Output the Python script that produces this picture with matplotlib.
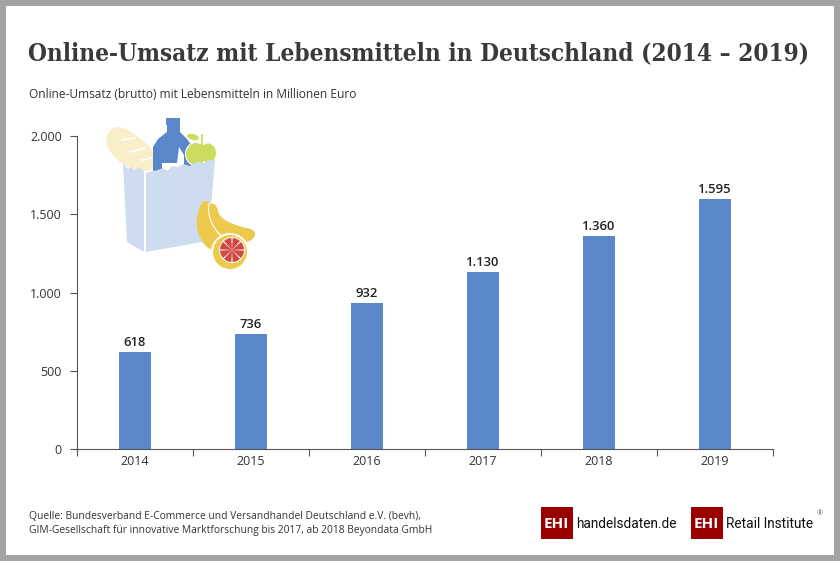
import matplotlib
matplotlib.use('Agg')
import matplotlib.pyplot as plt
from matplotlib.patches import Polygon, Rectangle, Ellipse, Circle, Wedge
from matplotlib.ticker import FuncFormatter

years = ['2014', '2015', '2016', '2017', '2018', '2019']
sales = [618, 736, 932, 1130, 1360, 1595]
yticks = [0, 500, 1000, 1500, 2000]
title = 'Online-Umsatz mit Lebensmitteln in Deutschland (2014 – 2019)'
subtitle = 'Online-Umsatz (brutto) mit Lebensmitteln in Millionen Euro'
source = ('Quelle: Bundesverband E-Commerce und Versandhandel Deutschland e.V. (bevh),\n'
          'GIM-Gesellschaft für innovative Marktforschung bis 2017, ab 2018 Beyondata GmbH')

def de(v):
    return f'{v:,.0f}'.replace(',', '.')

def smooth(pts, n=3):
    for _ in range(n):
        out = []
        for i in range(len(pts)):
            a, b = pts[i], pts[(i+1) % len(pts)]
            out.append((0.75*a[0]+0.25*b[0], 0.75*a[1]+0.25*b[1]))
            out.append((0.25*a[0]+0.75*b[0], 0.25*a[1]+0.75*b[1]))
        pts = out
    return pts

W, H = 840, 561
plt.rcParams['font.family'] = ['Open Sans', 'DejaVu Sans']
fig = plt.figure(figsize=(W/100, H/100), dpi=100, facecolor='white')

ov = fig.add_axes([0, 0, 1, 1], zorder=3)
ov.set_xlim(0, W); ov.set_ylim(H, 0); ov.axis('off'); ov.patch.set_alpha(0)

GR = '#a3a3a3'
for r in [(0, 0, W, 6), (0, 555, W, 6), (0, 0, 6, H), (834, 0, 6, H)]:
    ov.add_patch(Rectangle((r[0], r[1]), r[2], r[3], fc=GR, ec='none'))

ax = fig.add_axes([77/W, 1-449/H, 696/W, 313/H], zorder=2)
ax.patch.set_alpha(0)
xs = range(len(years))
ax.bar(xs, sales, width=32.5/116, color='#5a87c9')
for x, v in zip(xs, sales):
    ax.text(x, v+20, de(v), ha='center', va='bottom', fontsize=9.4, color='#222222', fontweight='semibold')
ax.set_xlim(-0.5, 5.5); ax.set_ylim(0, 2000)
ax.set_xticks([i+0.5 for i in range(-1, 6)], minor=False)
ax.set_xticklabels([])
ax.set_xticks(list(xs), minor=True)
ax.set_xticklabels(years, minor=True)
ax.tick_params(axis='x', which='major', length=5, width=0.8, color='#555555')
ax.tick_params(axis='x', which='minor', length=0, pad=4.5, labelsize=9, labelcolor='#333333')
ax.set_yticks(yticks)
ax.yaxis.set_major_formatter(FuncFormatter(lambda v, p: de(v)))
ax.tick_params(axis='y', length=5, width=0.8, color='#555555', labelsize=9, labelcolor='#333333', pad=6)
for s in ['top', 'right']:
    ax.spines[s].set_visible(False)
for s in ['left', 'bottom']:
    ax.spines[s].set_color('#555555'); ax.spines[s].set_linewidth(0.8)

ov.text(28, 53, title, fontsize=17.5, family='DejaVu Serif', stretch='condensed', fontweight='bold', color='#3a3a3a', va='center', ha='left')
ov.text(29, 94, subtitle, fontsize=8.6, color='#333333', va='center')
ov.text(29, 523.5, source, fontsize=7.35, color='#333333', va='center', linespacing=1.4)

# illustration
BR = '#f8efc9'; BL = '#5a87c9'; GN = '#cbdc5e'; BG = '#cedcf0'; YE = '#edc94c'
ov.add_patch(Polygon(smooth([(106,134),(117,125),(134,133),(155,151),(155,173),(124,167),(107,149)],2), fc=BR, ec='none'))
for p in [(122,140,135,138),(130,152,145,148),(142,160,152,158)]:
    ov.plot([p[0],p[2]],[p[1],p[3]],color='white',lw=1.3)
ov.add_patch(Rectangle((166,118),14,7,fc=BL,ec='none'))
ov.add_patch(Polygon([(167,125),(180,125),(180,132),(187,139),(192,146),(192,172),(153,172),(153,147),(158,139),(167,132)], fc=BL, ec='none'))
ov.add_patch(Polygon([(162,172),(162,163),(177,163),(179,147),(184,155),(184,172)], fc='white', ec='none'))
ov.add_patch(Ellipse((196,154),21,23,fc=GN,ec='white',lw=0.8))
ov.add_patch(Ellipse((208,153),16,19,fc=GN,ec='none'))
ov.add_patch(Ellipse((193,137),12,6,angle=15,fc=GN,ec='none'))
ov.plot([202,202],[135,146],color=GN,lw=1.3)
ov.add_patch(Polygon([(123,163),(128,169),(131,167),(134,170),(139,168),(144,171),(144,252),(127,242)], fc=BG, ec='none'))
ov.add_patch(Polygon([(146,173),(153,171),(158,170),(163,168),(167,171),(172,166),(178,167),(183,164),(190,166),(197,162),(204,163),(209,160),(215,160),(208,241),(146,252)], fc=BG, ec='none'))
ov.add_patch(Polygon(smooth([(201,201),(211,201),(209,214),(216,232),(226,242),(216,252),(204,246),(195,226)],2), fc=YE, ec='none'))
ov.add_patch(Polygon(smooth([(208,202),(217,204),(220,217),(236,225),(258,230),(252,243),(232,242),(218,234),(209,218)],2), fc=YE, ec='white', lw=0.8))
ov.add_patch(Circle((230,252),19,fc='white',ec='none'))
ov.add_patch(Circle((230,252),17,fc=YE,ec='none'))
ov.add_patch(Circle((232,250),13,fc='white',ec='none'))
for a in range(0, 360, 45):
    ov.add_patch(Wedge((232,250),12,a+3,a+42,fc='#cf4a45',ec='none'))

# logos
RED = '#9a0000'
for x0 in (540.5, 690.5):
    ov.add_patch(Rectangle((x0, 507), 32.5, 32, fc=RED, ec='none'))
    ov.text(x0+16.2, 524, 'EHI', color='white', fontsize=11, fontweight='bold', ha='center', va='center')
ov.text(576, 523.5, 'handelsdaten.de', fontsize=9.8, family='Roboto', color='#111111', va='center')
ov.text(726, 523.5, 'Retail Institute', fontsize=9.8, family='Roboto', color='#111111', va='center')
ov.text(817, 514, '®', fontsize=5, color='#555555', va='center')

fig.savefig('out.png', dpi=100)
